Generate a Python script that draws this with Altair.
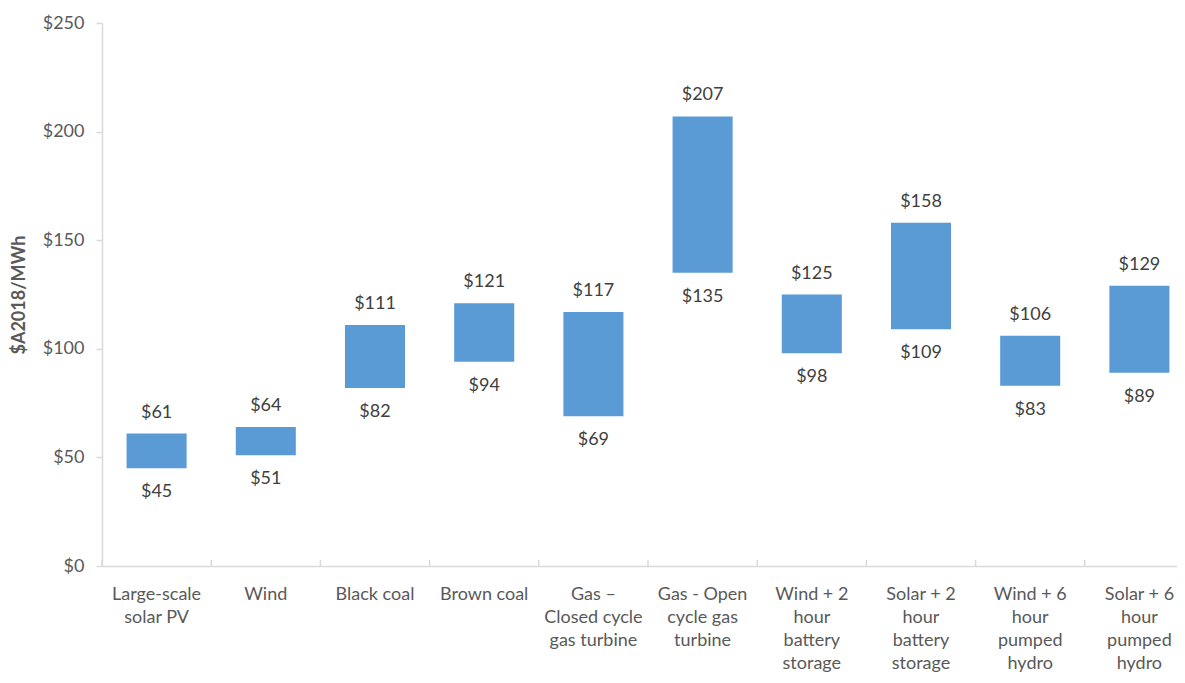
import altair as alt
import pandas as pd

categories = [
    "Large-scale\nsolar PV",
    "Wind",
    "Black coal",
    "Brown coal",
    "Gas –\nClosed cycle\ngas turbine",
    "Gas - Open\ncycle gas\nturbine",
    "Wind + 2\nhour\nbattery\nstorage",
    "Solar + 2\nhour\nbattery\nstorage",
    "Wind + 6\nhour\npumped\nhydro",
    "Solar + 6\nhour\npumped\nhydro",
]
low_values = [45, 51, 82, 94, 69, 135, 98, 109, 83, 89]
high_values = [61, 64, 111, 121, 117, 207, 125, 158, 106, 129]
y_ticks = [0, 50, 100, 150, 200, 250]

df = pd.DataFrame({"cat": categories, "low": low_values, "high": high_values})
df["low_label"] = ["$" + str(v) for v in low_values]
df["high_label"] = ["$" + str(v) for v in high_values]

FONT = "Lato"
AXIS_TEXT = "#595959"
LABEL_TEXT = "#404040"
LINE = "#D9D9D9"
BAR = "#5B9BD5"

x_enc = alt.X(
    "cat:N",
    sort=categories,
    scale=alt.Scale(range=[0, 1092], paddingInner=0, paddingOuter=0),
    axis=alt.Axis(
        title=None,
        labelAngle=0,
        ticks=False,
        grid=False,
        domain=True,
        domainColor=LINE,
        domainWidth=1.5,
        labelExpr="split(datum.label, '\\n')",
        labelFont=FONT,
        labelFontSize=18,
        labelColor=AXIS_TEXT,
        labelLineHeight=23,
        labelPadding=19,
        labelBaseline="top",
        labelLimit=200,
    ),
)

y_scale = alt.Scale(domain=[0, 250], nice=False, zero=True)

bars = alt.Chart(df).mark_bar(
    color=BAR, width=alt.RelativeBandSize(0.55)
).encode(
    x=x_enc,
    y=alt.Y(
        "low:Q",
        scale=y_scale,
        axis=alt.Axis(
            title="$A2018/MWh",
            titleFont=FONT,
            titleFontSize=18,
            titleFontWeight="bold",
            titleColor=AXIS_TEXT,
            titlePadding=14,
            values=y_ticks,
            labelExpr="'$' + datum.value",
            labelFont=FONT,
            labelFontSize=18,
            labelColor=AXIS_TEXT,
            labelPadding=12,
            grid=False,
            domainColor=LINE,
            domainWidth=1.5,
            tickColor=LINE,
            tickSize=6,
            tickWidth=1.5,
        ),
    ),
    y2="high:Q",
)

top_text = alt.Chart(df).mark_text(
    font=FONT, fontSize=18, color=LABEL_TEXT, baseline="middle", dy=-21
).encode(
    x=alt.X("cat:N", sort=categories),
    y=alt.Y("high:Q", scale=y_scale),
    text="high_label:N",
)

bottom_text = alt.Chart(df).mark_text(
    font=FONT, fontSize=18, color=LABEL_TEXT, baseline="middle", dy=24
).encode(
    x=alt.X("cat:N", sort=categories),
    y=alt.Y("low:Q", scale=y_scale),
    text="low_label:N",
)

ticks = alt.Chart(df).mark_rule(color=LINE, strokeWidth=1.5).encode(
    x=alt.X("cat:N", sort=categories, bandPosition=0),
    y=alt.value(537),
    y2=alt.value(543),
)

chart = (
    alt.layer(bars, top_text, bottom_text, ticks)
    .properties(
        width=1075,
        height=543,
        background="white",
        autosize=alt.AutoSizeParams(type="none"),
        padding={"left": 94, "top": 15, "right": 0, "bottom": 109},
    )
    .configure_view(strokeWidth=0, stroke="transparent")
    .configure_axis(grid=False)
)

chart.save("out.html", embed_options={"renderer": "svg", "actions": False})
